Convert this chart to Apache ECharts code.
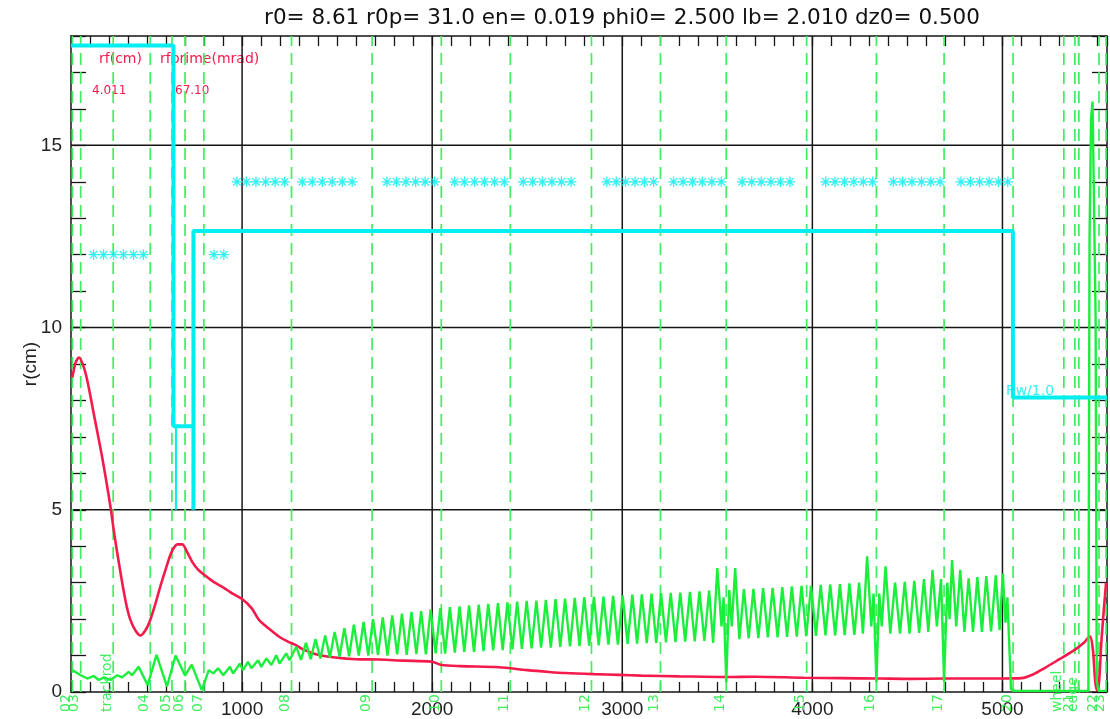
<!DOCTYPE html>
<html><head><meta charset="utf-8">
<script src="https://cdn.jsdelivr.net/npm/echarts@6/dist/echarts.min.js"></script>
<style>html,body{margin:0;padding:0;background:#fff}#c{width:1110px;height:719px}</style>
</head><body><div id="c"></div>
<script>
const titleText = 'r0= 8.61 r0p= 31.0 en= 0.019 phi0= 2.500 lb= 2.010 dz0= 0.500';
const xLabels = [1000, 2000, 3000, 4000, 5000];
const yLabels = [0, 5, 10, 15];
const xGrid = [1000, 2000, 3000, 4000, 5000];
const yGrid = [5, 10, 15];

const markerX = [107, 151, 322, 517, 631, 700, 799, 1260, 1684, 2048, 2411, 2838, 3201, 3547, 3970, 4337, 4693, 5056, 5323, 5381, 5402, 5508, 5545];
const markerLabels = ['02','03','trackrod','04','05','06','07','08','09','10','11','12','13','14','15','16','17','20','wheel','21','edge','22','23'];

const rfCurve = [[107,8.63],[125,9.05],[142,9.18],[165,8.95],[186,8.54],[220,7.63],[264,6.44],[308,5.07],[325,4.43],[350,3.6],[387,2.5],[413,1.97],[440,1.68],[465,1.55],[490,1.68],[513,1.92],[540,2.35],[570,2.9],[600,3.4],[630,3.85],[660,4.05],[685,4.05],[710,3.85],[740,3.55],[770,3.35],[800,3.22],[850,3.02],[900,2.87],[950,2.7],[1000,2.55],[1050,2.3],[1090,1.97],[1150,1.7],[1197,1.51],[1250,1.36],[1285,1.28],[1320,1.17],[1400,1.02],[1500,0.94],[1600,0.9],[1721,0.89],[1850,0.86],[1998,0.83],[2050,0.74],[2150,0.71],[2350,0.68],[2500,0.6],[2615,0.55],[2700,0.52],[2850,0.49],[2985,0.47],[3100,0.45],[3300,0.43],[3547,0.41],[3700,0.42],[3956,0.39],[4150,0.38],[4350,0.37],[4515,0.36],[4700,0.37],[4850,0.37],[5000,0.37],[5100,0.38],[5160,0.48],[5226,0.67],[5300,0.9],[5370,1.12],[5430,1.36],[5460,1.53],[5475,1.2],[5488,0.3],[5497,0.05],[5507,0.2],[5522,1.5],[5545,3.0]];

const greenCurve = [[107,0.60],[151,0.46],[186,0.37],[220,0.44],[246,0.33],[273,0.40],[308,0.33],[343,0.46],[369,0.40],[403,0.55],[421,0.46],[456,0.69],[503,0.19],[550,1.02],[605,0.15],[650,1.0],[700,0.45],[735,0.75],[788,0.05],[825,0.6],[848,0.51],[874,0.65],[901,0.46],[936,0.69],[953,0.51],[988,0.78],[1005,0.6],[1031,0.83],[1049,0.65],[1084,0.87],[1101,0.69],[1128,0.92],[1154,0.74],[1180,1.01],[1197,0.78],[1232,1.06],[1250,0.87],[1285,1.24],
[1310,0.88],[1336,1.35],[1361,0.9],[1386,1.45],[1412,0.92],[1437,1.55],[1462,0.95],[1487,1.65],[1513,0.97],[1538,1.75],[1563,0.98],[1588,1.85],[1614,1.0],[1639,1.92],[1664,1.0],[1689,2.0],[1715,1.02],[1740,2.05],[1765,1.0],[1790,2.1],[1816,1.03],[1841,2.15],[1866,1.02],[1891,2.2],[1917,1.04],[1942,2.22],[1967,1.03],[1992,2.27],[2018,1.06],[2043,2.3],[2068,1.05],[2093,2.33],[2119,1.08],[2144,2.35],[2169,1.1],[2194,2.38],[2220,1.1],[2245,2.4],[2270,1.12],[2295,2.42],[2321,1.14],[2346,2.44],[2371,1.15],[2396,2.46],[2422,1.17],[2447,2.48],[2472,1.18],[2497,2.5],[2523,1.2],[2548,2.51],[2573,1.22],[2598,2.53],[2624,1.22],[2649,2.55],[2674,1.24],[2699,2.56],[2725,1.25],[2750,2.58],[2775,1.26],[2800,2.6],[2826,1.27],[2851,2.61],[2876,1.28],[2901,2.62],[2927,1.3],[2952,2.64],[2977,1.3],[3002,2.65],[3028,1.32],[3053,2.67],[3078,1.33],[3103,2.68],[3129,1.34],[3154,2.7],[3179,1.35],[3204,2.71],[3230,1.36],[3255,2.72],[3280,1.37],[3305,2.73],[3331,1.38],[3356,2.75],[3381,1.39],[3406,2.76],[3432,1.4],[3457,2.78],[3478,1.35],[3500,3.4],[3522,1.8],[3533,2.6],[3547,0.27],[3563,2.8],[3576,1.8],[3594,3.4],[3616,1.45],[3640,2.82],[3665,1.47],[3690,2.83],[3716,1.48],[3741,2.85],[3766,1.5],[3791,2.86],[3817,1.5],[3842,2.88],[3867,1.51],[3892,2.9],[3918,1.52],[3943,2.91],[3968,1.53],[3993,2.92],[4019,1.54],[4044,2.94],[4069,1.55],[4094,2.95],[4120,1.55],[4145,2.96],[4170,1.56],[4195,2.98],[4221,1.57],[4246,3.0],[4266,1.6],[4288,3.72],[4310,1.8],[4322,2.7],[4337,0.27],[4352,2.7],[4365,1.8],[4385,3.45],[4410,1.6],[4435,3.0],[4461,1.6],[4486,3.02],[4511,1.6],[4536,3.05],[4562,1.62],[4587,3.1],[4610,1.65],[4632,3.35],[4655,1.8],[4677,3.1],[4693,0.28],[4710,3.0],[4722,2.0],[4735,3.62],[4757,1.8],[4778,3.35],[4800,1.65],[4822,3.12],[4845,1.65],[4868,3.15],[4892,1.65],[4915,3.18],[4940,1.66],[4965,3.2],[4985,1.7],[5002,3.25],[5016,1.9],[5026,2.6],[5045,0.08],[5065,0.03],[5452,0.03],[5458,12.4],[5466,15.75],[5474,16.2],[5482,16.2],[5490,10.3],[5496,0.3],[5505,0.03],[5550,0.03]];

const aperture = [[100,17.74],[639,17.74],[639,7.29],[744,7.29],[744,5.0],[744,12.65],[5055,12.65],[5055,8.08],[5550,8.08]];
const apertureThin = [[652,7.29],[652,5.0]];

const starsRow12 = [219,271,324,376,429,481,852,904];
const starsRow14 = [973,1023,1073,1124,1174,1224, 1317,1369,1422,1474,1527,1579, 1762,1812,1862,1913,1963,2013, 2118,2170,2223,2275,2328,2380, 2479,2529,2580,2630,2680,2731, 2919,2968,3017,3067,3116,3165, 3270,3320,3370,3421,3471,3521, 3631,3681,3731,3782,3832,3882, 4070,4119,4169,4218,4268,4317, 4426,4475,4524,4574,4623,4672, 4782,4831,4880,4930,4979,5028];
const starRow12Y = 12, starRow14Y = 14;
const rwLabelPoint = [5055, 8.08];

const X_MIN = 100, X_MAX = 5550, Y_MIN = 0, Y_MAX = 18;
const RED = '#f41a4c', GREEN = '#1cee3c', DASH = '#40ee60', CYAN = '#00eef0', INK = '#151515';

const chart = echarts.init(document.getElementById('c'), null, {renderer: 'canvas'});
const axisLine = {show: true, onZero: false, lineStyle: {color: INK, width: 1.5}};
const xAxisBase = {type: 'value', min: X_MIN, max: X_MAX, interval: 100, splitLine: {show: false},
  axisLine: axisLine, axisTick: {show: true, inside: true, length: 10, lineStyle: {color: INK, width: 1.3}}};
const yAxisBase = {type: 'value', min: Y_MIN, max: Y_MAX, interval: 1, splitLine: {show: false},
  axisLine: axisLine, axisTick: {show: true, inside: true, length: 15, lineStyle: {color: INK, width: 1.3}}};
const starPath = 'path://M5 0L5 10M0 5L10 5M1.5 1.5L8.5 8.5M1.5 8.5L8.5 1.5';

const option = {
  animation: false,
  backgroundColor: '#ffffff',
  textStyle: {fontFamily: 'Liberation Sans'},
  grid: {left: 71, top: 36, right: -2.5, bottom: 27, containLabel: false},
  xAxis: [
    Object.assign({}, xAxisBase, {position: 'bottom', axisLabel: {show: true, formatter: v => xLabels.includes(v) ? String(v) : '', fontSize: 19, color: '#222', margin: 8, fontFamily: 'Liberation Sans'}}),
    Object.assign({}, xAxisBase, {position: 'top', axisLabel: {show: false}})
  ],
  yAxis: [
    Object.assign({}, yAxisBase, {position: 'left', axisLabel: {show: true, formatter: v => yLabels.includes(v) ? String(v) : '', fontSize: 19, color: '#222', margin: 9, fontFamily: 'Liberation Sans'},
      name: 'r(cm)', nameLocation: 'middle', nameGap: 31, nameRotate: 90, nameMoveOverlap: false, nameTextStyle: {fontSize: 19, color: '#222', fontFamily: 'Liberation Sans'}}),
    Object.assign({}, yAxisBase, {position: 'right', axisLabel: {show: false}})
  ],
  graphic: [
    {type: 'text', x: 622, y: 7, style: {text: titleText, fill: '#111', font: '21.5px "DejaVu Sans"', align: 'center', verticalAlign: 'top'}},
    {type: 'text', x: 99, y: 59, style: {text: 'rf(cm)', fill: RED, font: '14px "DejaVu Sans"', verticalAlign: 'middle'}},
    {type: 'text', x: 160, y: 59, style: {text: 'rfprime(mrad)', fill: RED, font: '14px "DejaVu Sans"', verticalAlign: 'middle'}},
    {type: 'text', x: 92, y: 91, style: {text: '4.011', fill: RED, font: '12px "DejaVu Sans"', verticalAlign: 'middle'}},
    {type: 'text', x: 175, y: 91, style: {text: '67.10', fill: RED, font: '12px "DejaVu Sans"', verticalAlign: 'middle'}}
  ],
  series: [
    {type: 'custom', name: 'vgrid', z: 1, silent: true, xAxisIndex: 0, yAxisIndex: 0,
     data: xGrid.map(v => [v]),
     renderItem: (p, api) => {
       const a = api.coord([api.value(0), Y_MIN]), b = api.coord([api.value(0), Y_MAX]);
       return {type: 'line', shape: {x1: a[0], y1: a[1], x2: b[0], y2: b[1]}, style: {stroke: INK, lineWidth: 1.5}};
     }},
    {type: 'custom', name: 'hgrid', z: 1, silent: true, xAxisIndex: 0, yAxisIndex: 0,
     data: yGrid.map(v => [X_MIN, v]),
     renderItem: (p, api) => {
       const a = api.coord([X_MIN, api.value(1)]), b = api.coord([X_MAX, api.value(1)]);
       return {type: 'line', shape: {x1: a[0], y1: a[1], x2: b[0], y2: b[1]}, style: {stroke: INK, lineWidth: 1.5}};
     }},
    {type: 'custom', name: 'markers', z: 2, silent: true, clip: false,
     data: markerX.map((x, i) => [x, i]),
     renderItem: (p, api) => {
       const x = api.value(0);
       const a = api.coord([x, Y_MIN]), b = api.coord([x, Y_MAX]);
       const lab = markerLabels[api.value(1)];
       return {type: 'group', children: [
         {type: 'line', shape: {x1: a[0], y1: a[1], x2: b[0], y2: b[1]}, style: {stroke: DASH, lineWidth: 1.7, lineDash: [12, 7]}},
         {type: 'text', x: a[0] + 1, y: a[1] + 20, rotation: Math.PI / 2,
          style: {text: lab, fill: DASH, font: '14px "DejaVu Sans"', align: 'left', verticalAlign: 'bottom'}}
       ]};
     }},
    {type: 'line', name: 'rf', z: 3, data: rfCurve, showSymbol: false, smooth: 0.3, lineStyle: {color: RED, width: 2.6}, itemStyle: {color: RED}},
    {type: 'line', name: 'green', z: 4, data: greenCurve, showSymbol: false, lineStyle: {color: GREEN, width: 2.4}, itemStyle: {color: GREEN}},
    {type: 'line', name: 'aperture', z: 5, data: aperture, showSymbol: false, lineStyle: {color: CYAN, width: 4}, itemStyle: {color: CYAN}},
    {type: 'line', name: 'apertureThin', z: 5, data: apertureThin, showSymbol: false, lineStyle: {color: CYAN, width: 2}, itemStyle: {color: CYAN}},
    {type: 'scatter', name: 'stars', z: 5, symbol: starPath, symbolSize: 10.5,
     data: starsRow12.map(x => [x, starRow12Y]).concat(starsRow14.map(x => [x, starRow14Y])),
     itemStyle: {color: 'transparent', borderColor: CYAN, borderWidth: 1.3}},
    {type: 'scatter', name: 'rwlabel', z: 6, symbolSize: 0, data: [rwLabelPoint],
     label: {show: true, formatter: 'Rw/1.0', position: [-7, -13], align: 'left', verticalAlign: 'top', color: CYAN, fontSize: 14, fontFamily: 'DejaVu Sans'}}
  ]
};
chart.setOption(option);
</script>
</body></html>
